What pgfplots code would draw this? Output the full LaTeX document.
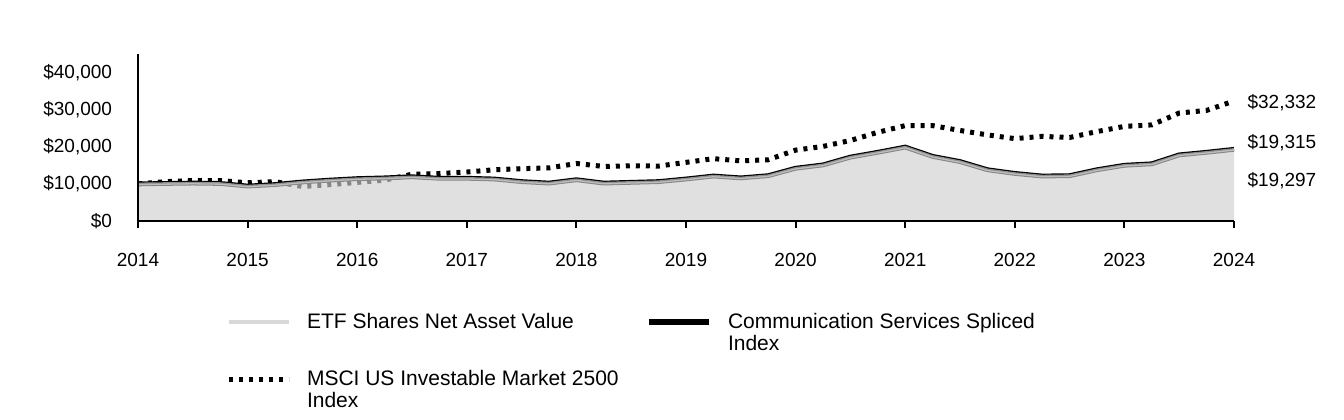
\documentclass[border=0pt]{standalone}
\usepackage{fontspec}
\setmainfont{Liberation Sans}
\usepackage{pgfplots}
\pgfplotsset{compat=1.18}
\usepackage{pgfplotstable}
\definecolor{etffill}{gray}{0.81}
\definecolor{etfline}{gray}{0.86}
\definecolor{etflegend}{gray}{0.85}

\pgfplotstableread{
x       etf    idx    msci
2014.00 10000  10000  10000
2014.25 10100  10120  10600
2014.50 10200  10220  10900
2014.75 10100  10120  10900
2015.00 9400   9420   10300
2015.25 9800   9820   10600
2015.50 10500  10520  9300
2015.75 11000  11020  9800
2016.00 11400  11420  10400
2016.25 11600  11620  11000
2016.50 11900  11920  12600
2016.75 11500  11520  12800
2017.00 11500  11520  13200
2017.25 11300  11320  13800
2017.50 10600  10620  14100
2017.75 10200  10220  14300
2018.00 11100  11120  15500
2018.25 10200  10220  14700
2018.50 10400  10420  14900
2018.75 10600  10620  14800
2019.00 11300  11320  15800
2019.25 12100  12120  16800
2019.50 11600  11620  16200
2019.75 12200  12220  16500
2020.00 14200  14220  19100
2020.25 15100  15120  20100
2020.50 17200  17220  21700
2020.75 18500  18520  23900
2021.00 19900  19920  25700
2021.25 17400  17420  25700
2021.50 16000  16020  24400
2021.75 13800  13820  23200
2022.00 12800  12820  22200
2022.25 12100  12120  22800
2022.50 12200  12220  22500
2022.75 13800  13820  24100
2023.00 15000  15020  25500
2023.25 15400  15420  25900
2023.50 17800  17820  29100
2023.75 18500  18520  29800
2024.00 19297  19315  32332
}\data

\begin{document}
\begin{tikzpicture}
\begin{axis}[
  scale only axis,
  width=548bp, height=83.5bp,
  xmin=2014, xmax=2024, ymin=0, ymax=45000,
  scaled y ticks=false,
  axis lines*=left,
  axis line style={line width=1bp, black},
  axis on top,
  clip=false,
  xtick={2014,2015,2016,2017,2018,2019,2020,2021,2022,2023,2024},
  xticklabels={2014,2015,2016,2017,2018,2019,2020,2021,2022,2023,2024},
  ytick={0,10000,20000,30000,40000},
  yticklabels={{\$0},{\$10,000},{\$20,000},{\$30,000},{\$40,000}},
  tick align=outside,
  major tick length=3.5bp,
  xtick style={line width=1bp, black},
  ytick style={draw=none},
  tick label style={font=\fontsize{9.5bp}{11bp}\selectfont, text=black},
  yticklabel style={anchor=east, xshift=-6bp},
  xticklabel style={anchor=north, yshift=-9bp},
  legend columns=2,
  legend cell align=left,
  legend image code/.code={\draw[#1] (0bp,0bp) -- (30bp,0bp);},
  legend style={draw=none, fill=none, inner sep=0pt, outer sep=0pt,
    at={(0.0803,-0.551)}, anchor=north west,
    font=\fontsize{10.5bp}{11bp}\selectfont,
    nodes={inner sep=0pt},
    /tikz/every odd column/.append style={column sep=8bp},
    /tikz/every even column/.append style={column sep=9.5bp},
    row sep=19.5bp},
]
\addlegendimage{etflegend, line width=1.8bp}
\addlegendentry{\parbox[t]{160bp}{\raggedright ETF Shares Net Asset Value}}
\addlegendimage{black, line width=3bp}
\addlegendentry{\parbox[t]{160bp}{\raggedright Communication Services Spliced\\Index}}
\addlegendimage{black, line width=2.5bp, dash pattern=on 2bp off 3bp}
\addlegendentry{\parbox[t]{160bp}{\raggedright MSCI US Investable Market 2500\\Index}}

\addplot[forget plot, black, line width=2.5bp, dash pattern=on 2bp off 3bp] table[x=x, y=msci]{\data};
\addplot[forget plot, black, line width=2.4bp] table[x=x, y=idx]{\data};
\addplot[forget plot, draw=none, fill=etffill, fill opacity=0.65] table[x=x, y=etf]{\data} \closedcycle;
\addplot[forget plot, etfline, line width=1.3bp, opacity=0.65] table[x=x, y=etf]{\data};

\node[anchor=west, inner sep=0pt, font=\fontsize{9.5bp}{11bp}\selectfont] at (axis cs:2024.12,31900) {\$32,332};
\node[anchor=west, inner sep=0pt, font=\fontsize{9.5bp}{11bp}\selectfont] at (axis cs:2024.12,21100) {\$19,315};
\node[anchor=west, inner sep=0pt, font=\fontsize{9.5bp}{11bp}\selectfont] at (axis cs:2024.12,10800) {\$19,297};
\end{axis}
\path (-69bp,-99.5bp) rectangle (603bp,110.5bp);
\end{tikzpicture}
\end{document}
